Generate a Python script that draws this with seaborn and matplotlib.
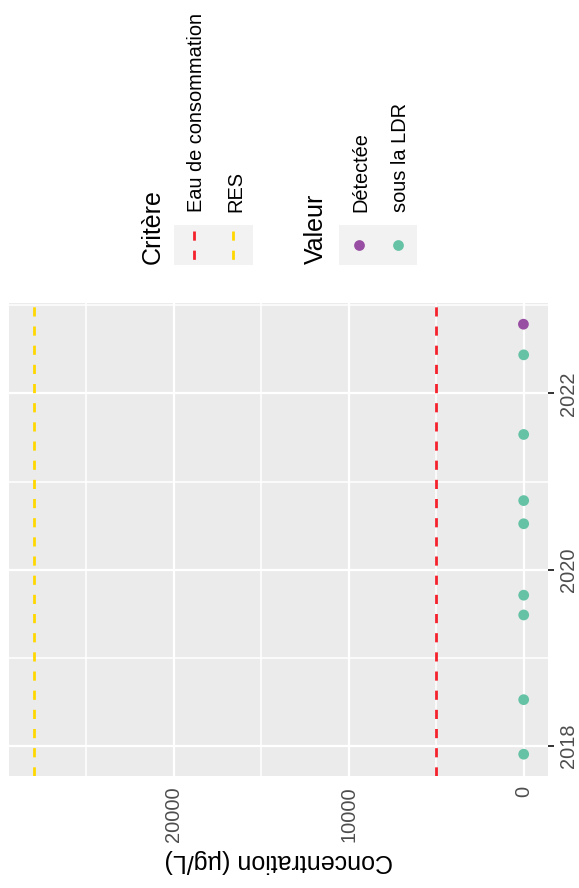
import pandas as pd
import numpy as np
import matplotlib
matplotlib.use("Agg")
import matplotlib.pyplot as plt
import matplotlib.dates as mdates
from matplotlib.ticker import MultipleLocator
from matplotlib.lines import Line2D
from matplotlib.patches import Rectangle
import seaborn as sns

# -------------------------
# DATA
# -------------------------
dates = ["2017-11-28", "2018-07-12", "2019-06-28", "2019-09-18", "2020-07-10",
         "2020-10-14", "2021-07-15", "2022-06-10", "2022-10-15"]
concentrations = [0, 0, 0, 0, 0, 0, 0, 0, 15]
valeur = ["sous la LDR", "sous la LDR", "sous la LDR", "sous la LDR", "sous la LDR",
          "sous la LDR", "sous la LDR", "sous la LDR", "Détectée"]

criteres = ["Eau de consommation", "RES"]
seuils = [5000, 28000]

valeur_levels = ["Détectée", "sous la LDR"]
valeur_colors = ["#984EA3", "#66C2A5"]
critere_colors = ["#F5222D", "#FFD700"]

df = pd.DataFrame({"date": pd.to_datetime(dates),
                   "conc": concentrations,
                   "Valeur": valeur})

# -------------------------
# STYLE
# -------------------------
sns.set_theme(style="darkgrid", rc={
    "axes.facecolor": "#EBEBEB",
    "axes.edgecolor": "#EBEBEB",
    "grid.color": "white",
})
plt.rcParams["font.family"] = ["Liberation Sans", "DejaVu Sans"]

W, H = 579, 888
fig = plt.figure(figsize=(W / 100, H / 100), dpi=100)
ax = fig.add_axes([9 / W, 1 - 775.7 / H, 539.2 / W, 473 / H])

# threshold lines
for crit, seuil, col in zip(criteres, seuils, critere_colors):
    ax.axvline(seuil, color=col, lw=2.0, dashes=(3.3, 3.6), zorder=2)

# points
sns.scatterplot(data=df, x="conc", y="date", hue="Valeur",
                hue_order=valeur_levels, palette=valeur_colors,
                s=60, linewidth=0, legend=False, ax=ax, zorder=3)

# ggplot-like 5% expansion
ynum = mdates.date2num(df["date"])
span = ynum.max() - ynum.min()
ax.set_ylim(ynum.min() - 0.05 * span, ynum.max() + 0.05 * span)
xmax = max(seuils)
ax.set_xlim(xmax * 1.05, -0.05 * xmax)

ax.yaxis.set_major_locator(mdates.YearLocator(2))
ax.yaxis.set_minor_locator(mdates.YearLocator(1))
ax.yaxis.set_major_formatter(mdates.DateFormatter("%Y"))
ax.yaxis.tick_right()
ax.xaxis.set_major_locator(MultipleLocator(10000))
ax.xaxis.set_minor_locator(MultipleLocator(5000))

ax.grid(which="major", color="white", lw=1.6)
ax.grid(which="minor", color="white", lw=1.1)
ax.set_axisbelow(True)
for sp in ax.spines.values():
    sp.set_visible(False)

ax.tick_params(which="major", length=4.5, width=1.4, color="#333333",
               labelcolor="#4D4D4D", labelsize=14.4)
ax.tick_params(which="minor", length=0)
ax.tick_params(axis="y", pad=3, labelrotation=90)
ax.tick_params(axis="x", pad=3, labelrotation=90)
ax.set_ylabel("")
ax.set_xlabel("Concentration (µg/L)", rotation=180, fontsize=18,
              color="black", labelpad=5)

fig.canvas.draw()
plt.setp(ax.get_yticklabels(), va="center")

# -------------------------
# LEGEND (drawn rotated, pixel coordinates)
# -------------------------
lax = fig.add_axes([0, 0, 1, 1])
lax.set_xlim(0, W)
lax.set_ylim(H, 0)
lax.axis("off")

txt = dict(rotation=90, rotation_mode="anchor", ha="left", va="baseline")

# Critère
lax.text(160, 263.5, "Critère", fontsize=18, color="black", **txt)
lax.add_patch(Rectangle((174, 225), 79, 40, color="#F2F2F2", lw=0))
for i, (crit, col) in enumerate(zip(criteres, critere_colors)):
    kx = 193.5 + 39.5 * i
    lax.add_line(Line2D([kx, kx], [231.5, 260.5], color=col, lw=2.0,
                        dashes=(3.3, 3.6)))
    lax.text(kx + 8.5, 211.7, crit, fontsize=14.4, color="black", **txt)

# Valeur
lax.text(323, 263.5, "Valeur", fontsize=18, color="black", **txt)
lax.add_patch(Rectangle((339, 225), 78, 40, color="#F2F2F2", lw=0))
for i, (lev, col) in enumerate(zip(valeur_levels, valeur_colors)):
    kx = 358.7 + 39 * i
    lax.scatter([kx], [245.5], s=60, color=col, lw=0)
    lax.text(kx + 8, 211.7, lev, fontsize=14.4, color="black", **txt)

fig.savefig("out.png", dpi=100)
